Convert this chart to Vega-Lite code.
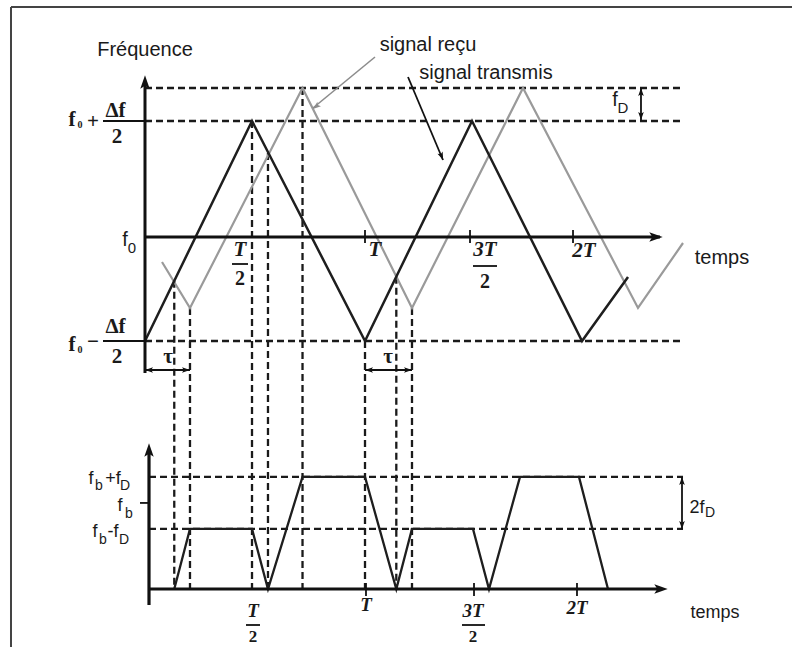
{
"$schema":"https://vega.github.io/schema/vega-lite/v6.json",
"width":792,"height":647,"autosize":"none","padding":0,
"background":"#ffffff",
"config":{"view":{"stroke":null}},
"resolve":{"scale":{"y":"independent"}},
"layer":[
{"layer":[
 {"data":{"values":[
  {"t":-0.6091,"t2":-0.6091,"f":2.0364,"f2":-3.7818},
  {"t":-0.6091,"t2":2.9409,"f":2.0364,"f2":2.0364}]},
  "mark":{"type":"rule","color":"#444444","strokeWidth":2},
  "encoding":{"x":{"field":"t","type":"quantitative","scale":{"domain":[-0.65909,2.94091],"nice":false,"zero":false},"axis":null},"x2":{"field":"t2"},
   "y":{"field":"f","type":"quantitative","scale":{"domain":[-3.78182,2.1],"nice":false,"zero":false},"axis":null},"y2":{"field":"f2"}}},
 {"data":{"values":[
  {"t":0,"t2":2.4455,"f":1.3,"f2":1.3},
  {"t":0,"t2":2.4455,"f":1,"f2":1},
  {"t":0,"t2":2.4455,"f":-1,"f2":-1},
  {"t":0.133,"t2":0.133,"f":-0.453,"f2":-3.2545},
  {"t":0.2045,"t2":0.2045,"f":-0.7,"f2":-3.2545},
  {"t":0.4864,"t2":0.4864,"f":1,"f2":-3.2545},
  {"t":0.559,"t2":0.559,"f":0.71,"f2":-3.2545},
  {"t":0.716,"t2":0.716,"f":1.3,"f2":-3.2545},
  {"t":1.0,"t2":1.0,"f":-1,"f2":-3.2545},
  {"t":1.1423,"t2":1.1423,"f":-0.415,"f2":-3.2545},
  {"t":1.2136,"t2":1.2136,"f":-0.7,"f2":-3.2545}]},
  "mark":{"type":"rule","color":"#1a1a1a","strokeWidth":2.3,"strokeDash":[7,4]},
  "encoding":{"x":{"field":"t","type":"quantitative","scale":{"domain":[-0.65909,2.94091],"nice":false,"zero":false},"axis":null},"x2":{"field":"t2"},
   "y":{"field":"f","type":"quantitative","scale":{"domain":[-3.78182,2.1],"nice":false,"zero":false},"axis":null},"y2":{"field":"f2"}}},
 {"data":{"values":[
  {"t":0.0773,"f":-0.2818},{"t":0.2045,"f":-0.7},{"t":0.716,"f":1.3},{"t":1.2136,"f":-0.7},{"t":1.7182,"f":1.3},{"t":2.2409,"f":-0.7},{"t":2.4455,"f":-0.1091}]},
  "mark":{"type":"line","color":"#9a9a9a","strokeWidth":2.2},
  "encoding":{"x":{"field":"t","type":"quantitative","scale":{"domain":[-0.65909,2.94091],"nice":false,"zero":false},"axis":null},
   "y":{"field":"f","type":"quantitative","scale":{"domain":[-3.78182,2.1],"nice":false,"zero":false},"axis":null}}},
 {"data":{"values":[
  {"t":0,"f":-1},{"t":0.4864,"f":1},{"t":1.0,"f":-1},{"t":1.4864,"f":1},{"t":1.9864,"f":-1},{"t":2.1955,"f":-0.4182}]},
  "mark":{"type":"line","color":"#1e1e1e","strokeWidth":2.5},
  "encoding":{"x":{"field":"t","type":"quantitative","scale":{"domain":[-0.65909,2.94091],"nice":false,"zero":false},"axis":null},
   "y":{"field":"f","type":"quantitative","scale":{"domain":[-3.78182,2.1],"nice":false,"zero":false},"axis":null}}},
 {"data":{"values":[
  {"t":0,"t2":0,"f":-1.2909,"f2":1.327},
  {"t":0,"t2":2.3409,"f":-0.0545,"f2":-0.0545}]},
  "mark":{"type":"rule","color":"#111111","strokeWidth":3},
  "encoding":{"x":{"field":"t","type":"quantitative","scale":{"domain":[-0.65909,2.94091],"nice":false,"zero":false},"axis":null},"x2":{"field":"t2"},
   "y":{"field":"f","type":"quantitative","scale":{"domain":[-3.78182,2.1],"nice":false,"zero":false},"axis":null},"y2":{"field":"f2"}}},
 {"data":{"values":[
  {"t":-0.1909,"t2":0,"f":1,"f2":1},
  {"t":-0.1909,"t2":0,"f":-1,"f2":-1},
  {"t":1.0,"t2":1.0,"f":0.0091,"f2":-0.1091},
  {"t":1.4773,"t2":1.4773,"f":0.0091,"f2":-0.1091},
  {"t":1.9455,"t2":1.9455,"f":0.0091,"f2":-0.1091},
  {"t":0.3955,"t2":0.4682,"f":-0.3,"f2":-0.3},
  {"t":1.4909,"t2":1.6,"f":-0.3182,"f2":-0.3182},
  {"t":0,"t2":0.2045,"f":-1.2636,"f2":-1.2636},
  {"t":1.0,"t2":1.2136,"f":-1.2636,"f2":-1.2636},
  {"t":2.2545,"t2":2.2545,"f":1.3,"f2":1.0},
  {"t":1.1955,"t2":1.3545,"f":1.4,"f2":0.6455}]},
  "mark":{"type":"rule","color":"#111111","strokeWidth":1.8},
  "encoding":{"x":{"field":"t","type":"quantitative","scale":{"domain":[-0.65909,2.94091],"nice":false,"zero":false},"axis":null},"x2":{"field":"t2"},
   "y":{"field":"f","type":"quantitative","scale":{"domain":[-3.78182,2.1],"nice":false,"zero":false},"axis":null},"y2":{"field":"f2"}}},
 {"data":{"values":[
  {"t":1.0455,"t2":0.7636,"f":1.5818,"f2":1.1182}]},
  "mark":{"type":"rule","color":"#8c8c8c","strokeWidth":1.6},
  "encoding":{"x":{"field":"t","type":"quantitative","scale":{"domain":[-0.65909,2.94091],"nice":false,"zero":false},"axis":null},"x2":{"field":"t2"},
   "y":{"field":"f","type":"quantitative","scale":{"domain":[-3.78182,2.1],"nice":false,"zero":false},"axis":null},"y2":{"field":"f2"}}},
 {"data":{"values":[{"t":0,"f":1.3545}]},
  "mark":{"type":"point","shape":"M0,-1L0.7,1L0,0.55L-0.7,1Z","filled":true,"opacity":1,"strokeWidth":0,"color":"#111111","size":180,"angle":0},
  "encoding":{"x":{"field":"t","type":"quantitative","scale":{"domain":[-0.65909,2.94091],"nice":false,"zero":false},"axis":null},
   "y":{"field":"f","type":"quantitative","scale":{"domain":[-3.78182,2.1],"nice":false,"zero":false},"axis":null}}},
 {"data":{"values":[{"t":2.3227,"f":-0.0545}]},
  "mark":{"type":"point","shape":"M0,-1L0.7,1L0,0.55L-0.7,1Z","filled":true,"opacity":1,"strokeWidth":0,"color":"#111111","size":180,"angle":90},
  "encoding":{"x":{"field":"t","type":"quantitative","scale":{"domain":[-0.65909,2.94091],"nice":false,"zero":false},"axis":null},
   "y":{"field":"f","type":"quantitative","scale":{"domain":[-3.78182,2.1],"nice":false,"zero":false},"axis":null}}},
 {"data":{"values":[{"t":2.2545,"f":1.2636}]},
  "mark":{"type":"point","shape":"M0,-1L0.7,1L0,0.55L-0.7,1Z","filled":true,"opacity":1,"strokeWidth":0,"color":"#111111","size":64,"angle":0},
  "encoding":{"x":{"field":"t","type":"quantitative","scale":{"domain":[-0.65909,2.94091],"nice":false,"zero":false},"axis":null},
   "y":{"field":"f","type":"quantitative","scale":{"domain":[-3.78182,2.1],"nice":false,"zero":false},"axis":null}}},
 {"data":{"values":[{"t":2.2545,"f":1.0455}]},
  "mark":{"type":"point","shape":"M0,-1L0.7,1L0,0.55L-0.7,1Z","filled":true,"opacity":1,"strokeWidth":0,"color":"#111111","size":64,"angle":180},
  "encoding":{"x":{"field":"t","type":"quantitative","scale":{"domain":[-0.65909,2.94091],"nice":false,"zero":false},"axis":null},
   "y":{"field":"f","type":"quantitative","scale":{"domain":[-3.78182,2.1],"nice":false,"zero":false},"axis":null}}},
 {"data":{"values":[{"t":0.0182,"f":-1.2636},{"t":1.0182,"f":-1.2636}]},
  "mark":{"type":"point","shape":"M0,-1L0.7,1L0,0.55L-0.7,1Z","filled":true,"opacity":1,"strokeWidth":0,"color":"#111111","size":64,"angle":270},
  "encoding":{"x":{"field":"t","type":"quantitative","scale":{"domain":[-0.65909,2.94091],"nice":false,"zero":false},"axis":null},
   "y":{"field":"f","type":"quantitative","scale":{"domain":[-3.78182,2.1],"nice":false,"zero":false},"axis":null}}},
 {"data":{"values":[{"t":0.1864,"f":-1.2636},{"t":1.1955,"f":-1.2636}]},
  "mark":{"type":"point","shape":"M0,-1L0.7,1L0,0.55L-0.7,1Z","filled":true,"opacity":1,"strokeWidth":0,"color":"#111111","size":64,"angle":90},
  "encoding":{"x":{"field":"t","type":"quantitative","scale":{"domain":[-0.65909,2.94091],"nice":false,"zero":false},"axis":null},
   "y":{"field":"f","type":"quantitative","scale":{"domain":[-3.78182,2.1],"nice":false,"zero":false},"axis":null}}},
 {"data":{"values":[{"t":1.3482,"f":0.6791}]},
  "mark":{"type":"point","shape":"M0,-1L0.7,1L0,0.55L-0.7,1Z","filled":true,"opacity":1,"strokeWidth":0,"color":"#111111","size":64,"angle":157.2},
  "encoding":{"x":{"field":"t","type":"quantitative","scale":{"domain":[-0.65909,2.94091],"nice":false,"zero":false},"axis":null},
   "y":{"field":"f","type":"quantitative","scale":{"domain":[-3.78182,2.1],"nice":false,"zero":false},"axis":null}}},
 {"data":{"values":[{"t":0.7777,"f":1.1318}]},
  "mark":{"type":"point","shape":"M0,-1L0.7,1L0,0.55L-0.7,1Z","filled":true,"opacity":1,"strokeWidth":0,"color":"#8c8c8c","size":64,"angle":230.6},
  "encoding":{"x":{"field":"t","type":"quantitative","scale":{"domain":[-0.65909,2.94091],"nice":false,"zero":false},"axis":null},
   "y":{"field":"f","type":"quantitative","scale":{"domain":[-3.78182,2.1],"nice":false,"zero":false},"axis":null}}},
 {"data":{"values":[
  {"t":0,"f":1.6455,"label":"Fréquence"},
  {"t":1.2864,"f":1.6909,"label":"signal reçu"},
  {"t":1.55,"f":1.4364,"label":"signal transmis"},
  {"t":2.6227,"f":-0.2455,"label":"temps"},
  {"t":-0.0909,"f":-0.0818,"label":"f"},
  {"t":2.1364,"f":1.1909,"label":"f"}]},
  "mark":{"type":"text","font":"Liberation Sans","fontSize":20,"color":"#1a1a1a","align":"center","baseline":"middle"},
  "encoding":{"x":{"field":"t","type":"quantitative","scale":{"domain":[-0.65909,2.94091],"nice":false,"zero":false},"axis":null},
   "y":{"field":"f","type":"quantitative","scale":{"domain":[-3.78182,2.1],"nice":false,"zero":false},"axis":null},"text":{"field":"label"}}},
 {"data":{"values":[
  {"t":-0.0591,"f":-0.1545,"label":"0"},
  {"t":2.1727,"f":1.1182,"label":"D"}]},
  "mark":{"type":"text","font":"Liberation Sans","fontSize":15,"color":"#1a1a1a","align":"center","baseline":"middle"},
  "encoding":{"x":{"field":"t","type":"quantitative","scale":{"domain":[-0.65909,2.94091],"nice":false,"zero":false},"axis":null},
   "y":{"field":"f","type":"quantitative","scale":{"domain":[-3.78182,2.1],"nice":false,"zero":false},"axis":null},"text":{"field":"label"}}},
 {"data":{"values":[
  {"t":-0.3318,"f":1.0091,"label":"f"},
  {"t":-0.2364,"f":0.9909,"label":"+"},
  {"t":-0.1341,"f":1.0909,"label":"Δf"},
  {"t":-0.1273,"f":0.8545,"label":"2"},
  {"t":-0.3318,"f":-1.0364,"label":"f"},
  {"t":-0.2364,"f":-1.0091,"label":"−"},
  {"t":-0.1341,"f":-0.8727,"label":"Δf"},
  {"t":-0.1273,"f":-1.1455,"label":"2"},
  {"t":0.1045,"f":-1.1455,"label":"τ"},
  {"t":1.1045,"f":-1.1455,"label":"τ"}]},
  "mark":{"type":"text","font":"Liberation Serif","fontSize":21,"fontWeight":"bold","color":"#1a1a1a","align":"center","baseline":"middle"},
  "encoding":{"x":{"field":"t","type":"quantitative","scale":{"domain":[-0.65909,2.94091],"nice":false,"zero":false},"axis":null},
   "y":{"field":"f","type":"quantitative","scale":{"domain":[-3.78182,2.1],"nice":false,"zero":false},"axis":null},"text":{"field":"label"}}},
 {"data":{"values":[
  {"t":-0.2955,"f":0.9636,"label":"0"},
  {"t":-0.2955,"f":-1.0818,"label":"0"}]},
  "mark":{"type":"text","font":"Liberation Serif","fontSize":10,"fontWeight":"bold","color":"#1a1a1a","align":"center","baseline":"middle"},
  "encoding":{"x":{"field":"t","type":"quantitative","scale":{"domain":[-0.65909,2.94091],"nice":false,"zero":false},"axis":null},
   "y":{"field":"f","type":"quantitative","scale":{"domain":[-3.78182,2.1],"nice":false,"zero":false},"axis":null},"text":{"field":"label"}}},
 {"data":{"values":[
  {"t":0.4318,"f":-0.1727,"label":"T"},
  {"t":1.0455,"f":-0.1727,"label":"T"},
  {"t":1.5455,"f":-0.1727,"label":"3T"},
  {"t":1.9955,"f":-0.1818,"label":"2T"}]},
  "mark":{"type":"text","font":"Liberation Serif","fontSize":21,"fontStyle":"italic","fontWeight":"bold","color":"#1a1a1a","align":"center","baseline":"middle"},
  "encoding":{"x":{"field":"t","type":"quantitative","scale":{"domain":[-0.65909,2.94091],"nice":false,"zero":false},"axis":null},
   "y":{"field":"f","type":"quantitative","scale":{"domain":[-3.78182,2.1],"nice":false,"zero":false},"axis":null},"text":{"field":"label"}}},
 {"data":{"values":[
  {"t":0.4318,"f":-0.4364,"label":"2"},
  {"t":1.5455,"f":-0.4636,"label":"2"}]},
  "mark":{"type":"text","font":"Liberation Serif","fontSize":20,"fontWeight":"bold","color":"#1a1a1a","align":"center","baseline":"middle"},
  "encoding":{"x":{"field":"t","type":"quantitative","scale":{"domain":[-0.65909,2.94091],"nice":false,"zero":false},"axis":null},
   "y":{"field":"f","type":"quantitative","scale":{"domain":[-3.78182,2.1],"nice":false,"zero":false},"axis":null},"text":{"field":"label"}}}
]},
{"layer":[
 {"data":{"values":[
  {"t":0.0182,"t2":2.4455,"b":4.31,"b2":4.31},
  {"t":0.0182,"t2":2.4455,"b":2.31,"b2":2.31}]},
  "mark":{"type":"rule","color":"#1a1a1a","strokeWidth":2.3,"strokeDash":[7,4]},
  "encoding":{"x":{"field":"t","type":"quantitative","scale":{"domain":[-0.65909,2.94091],"nice":false,"zero":false},"axis":null},"x2":{"field":"t2"},
   "y":{"field":"b","type":"quantitative","scale":{"domain":[-2.23077,22.65385],"nice":false,"zero":false},"axis":null},"y2":{"field":"b2"}}},
 {"data":{"values":[
  {"t":0.133,"b":0},{"t":0.2045,"b":2.31},{"t":0.4864,"b":2.31},{"t":0.559,"b":0},{"t":0.716,"b":4.31},{"t":1.0,"b":4.31},{"t":1.1423,"b":0},{"t":1.2136,"b":2.31},{"t":1.4909,"b":2.31},{"t":1.5636,"b":0},{"t":1.7045,"b":4.31},{"t":1.9727,"b":4.31},{"t":2.1045,"b":0}]},
  "mark":{"type":"line","color":"#1e1e1e","strokeWidth":2.3},
  "encoding":{"x":{"field":"t","type":"quantitative","scale":{"domain":[-0.65909,2.94091],"nice":false,"zero":false},"axis":null},
   "y":{"field":"b","type":"quantitative","scale":{"domain":[-2.23077,22.65385],"nice":false,"zero":false},"axis":null}}},
 {"data":{"values":[
  {"t":0.0182,"t2":0.0182,"b":-0.6154,"b2":5.269},
  {"t":0.0182,"t2":2.35,"b":0,"b2":0}]},
  "mark":{"type":"rule","color":"#111111","strokeWidth":3.2},
  "encoding":{"x":{"field":"t","type":"quantitative","scale":{"domain":[-0.65909,2.94091],"nice":false,"zero":false},"axis":null},"x2":{"field":"t2"},
   "y":{"field":"b","type":"quantitative","scale":{"domain":[-2.23077,22.65385],"nice":false,"zero":false},"axis":null},"y2":{"field":"b2"}}},
 {"data":{"values":[
  {"t":-0.0227,"t2":0.0182,"b":3.31,"b2":3.31},
  {"t":1.0045,"t2":1.0045,"b":0.23,"b2":-0.27},
  {"t":1.4955,"t2":1.4955,"b":0.23,"b2":-0.27},
  {"t":1.9636,"t2":1.9636,"b":0.23,"b2":-0.27},
  {"t":0.4591,"t2":0.5227,"b":-1.3846,"b2":-1.3846},
  {"t":1.4409,"t2":1.5455,"b":-1.3846,"b2":-1.3846},
  {"t":2.4409,"t2":2.4409,"b":2.31,"b2":4.31}]},
  "mark":{"type":"rule","color":"#111111","strokeWidth":1.8},
  "encoding":{"x":{"field":"t","type":"quantitative","scale":{"domain":[-0.65909,2.94091],"nice":false,"zero":false},"axis":null},"x2":{"field":"t2"},
   "y":{"field":"b","type":"quantitative","scale":{"domain":[-2.23077,22.65385],"nice":false,"zero":false},"axis":null},"y2":{"field":"b2"}}},
 {"data":{"values":[{"t":0.0182,"b":5.3462}]},
  "mark":{"type":"point","shape":"M0,-1L0.7,1L0,0.55L-0.7,1Z","filled":true,"opacity":1,"strokeWidth":0,"color":"#111111","size":180,"angle":0},
  "encoding":{"x":{"field":"t","type":"quantitative","scale":{"domain":[-0.65909,2.94091],"nice":false,"zero":false},"axis":null},
   "y":{"field":"b","type":"quantitative","scale":{"domain":[-2.23077,22.65385],"nice":false,"zero":false},"axis":null}}},
 {"data":{"values":[{"t":2.3455,"b":0}]},
  "mark":{"type":"point","shape":"M0,-1L0.7,1L0,0.55L-0.7,1Z","filled":true,"opacity":1,"strokeWidth":0,"color":"#111111","size":180,"angle":90},
  "encoding":{"x":{"field":"t","type":"quantitative","scale":{"domain":[-0.65909,2.94091],"nice":false,"zero":false},"axis":null},
   "y":{"field":"b","type":"quantitative","scale":{"domain":[-2.23077,22.65385],"nice":false,"zero":false},"axis":null}}},
 {"data":{"values":[{"t":2.4409,"b":4.1538}]},
  "mark":{"type":"point","shape":"M0,-1L0.7,1L0,0.55L-0.7,1Z","filled":true,"opacity":1,"strokeWidth":0,"color":"#111111","size":64,"angle":0},
  "encoding":{"x":{"field":"t","type":"quantitative","scale":{"domain":[-0.65909,2.94091],"nice":false,"zero":false},"axis":null},
   "y":{"field":"b","type":"quantitative","scale":{"domain":[-2.23077,22.65385],"nice":false,"zero":false},"axis":null}}},
 {"data":{"values":[{"t":2.4409,"b":2.4615}]},
  "mark":{"type":"point","shape":"M0,-1L0.7,1L0,0.55L-0.7,1Z","filled":true,"opacity":1,"strokeWidth":0,"color":"#111111","size":64,"angle":180},
  "encoding":{"x":{"field":"t","type":"quantitative","scale":{"domain":[-0.65909,2.94091],"nice":false,"zero":false},"axis":null},
   "y":{"field":"b","type":"quantitative","scale":{"domain":[-2.23077,22.65385],"nice":false,"zero":false},"axis":null}}},
 {"data":{"values":[
  {"t":-0.2455,"b":4.2308,"label":"f"},
  {"t":-0.1455,"b":4.2308,"label":"+f"},
  {"t":-0.1136,"b":3.1923,"label":"f"},
  {"t":-0.2273,"b":2.1923,"label":"f"},
  {"t":-0.1455,"b":2.1923,"label":"-f"},
  {"t":2.5091,"b":3.1154,"label":"2f"},
  {"t":2.5909,"b":-0.9231,"label":"temps"}]},
  "mark":{"type":"text","font":"Liberation Sans","fontSize":18,"color":"#1a1a1a","align":"center","baseline":"middle"},
  "encoding":{"x":{"field":"t","type":"quantitative","scale":{"domain":[-0.65909,2.94091],"nice":false,"zero":false},"axis":null},
   "y":{"field":"b","type":"quantitative","scale":{"domain":[-2.23077,22.65385],"nice":false,"zero":false},"axis":null},"text":{"field":"label"}}},
 {"data":{"values":[
  {"t":-0.2091,"b":3.9615,"label":"b"},
  {"t":-0.0909,"b":3.9615,"label":"D"},
  {"t":-0.0727,"b":2.8846,"label":"b"},
  {"t":-0.1909,"b":1.8846,"label":"b"},
  {"t":-0.0955,"b":1.8846,"label":"D"},
  {"t":2.5682,"b":2.9231,"label":"D"}]},
  "mark":{"type":"text","font":"Liberation Sans","fontSize":14,"color":"#1a1a1a","align":"center","baseline":"middle"},
  "encoding":{"x":{"field":"t","type":"quantitative","scale":{"domain":[-0.65909,2.94091],"nice":false,"zero":false},"axis":null},
   "y":{"field":"b","type":"quantitative","scale":{"domain":[-2.23077,22.65385],"nice":false,"zero":false},"axis":null},"text":{"field":"label"}}},
 {"data":{"values":[
  {"t":0.4909,"b":-0.8462,"label":"T"},
  {"t":1.0045,"b":-0.6154,"label":"T"},
  {"t":1.4909,"b":-0.8462,"label":"3T"},
  {"t":1.9636,"b":-0.7308,"label":"2T"}]},
  "mark":{"type":"text","font":"Liberation Serif","fontSize":19,"fontStyle":"italic","fontWeight":"bold","color":"#1a1a1a","align":"center","baseline":"middle"},
  "encoding":{"x":{"field":"t","type":"quantitative","scale":{"domain":[-0.65909,2.94091],"nice":false,"zero":false},"axis":null},
   "y":{"field":"b","type":"quantitative","scale":{"domain":[-2.23077,22.65385],"nice":false,"zero":false},"axis":null},"text":{"field":"label"}}},
 {"data":{"values":[
  {"t":0.4909,"b":-1.8462,"label":"2"},
  {"t":1.4909,"b":-1.8462,"label":"2"}]},
  "mark":{"type":"text","font":"Liberation Serif","fontSize":17,"fontWeight":"bold","color":"#1a1a1a","align":"center","baseline":"middle"},
  "encoding":{"x":{"field":"t","type":"quantitative","scale":{"domain":[-0.65909,2.94091],"nice":false,"zero":false},"axis":null},
   "y":{"field":"b","type":"quantitative","scale":{"domain":[-2.23077,22.65385],"nice":false,"zero":false},"axis":null},"text":{"field":"label"}}}
]}
]
}
